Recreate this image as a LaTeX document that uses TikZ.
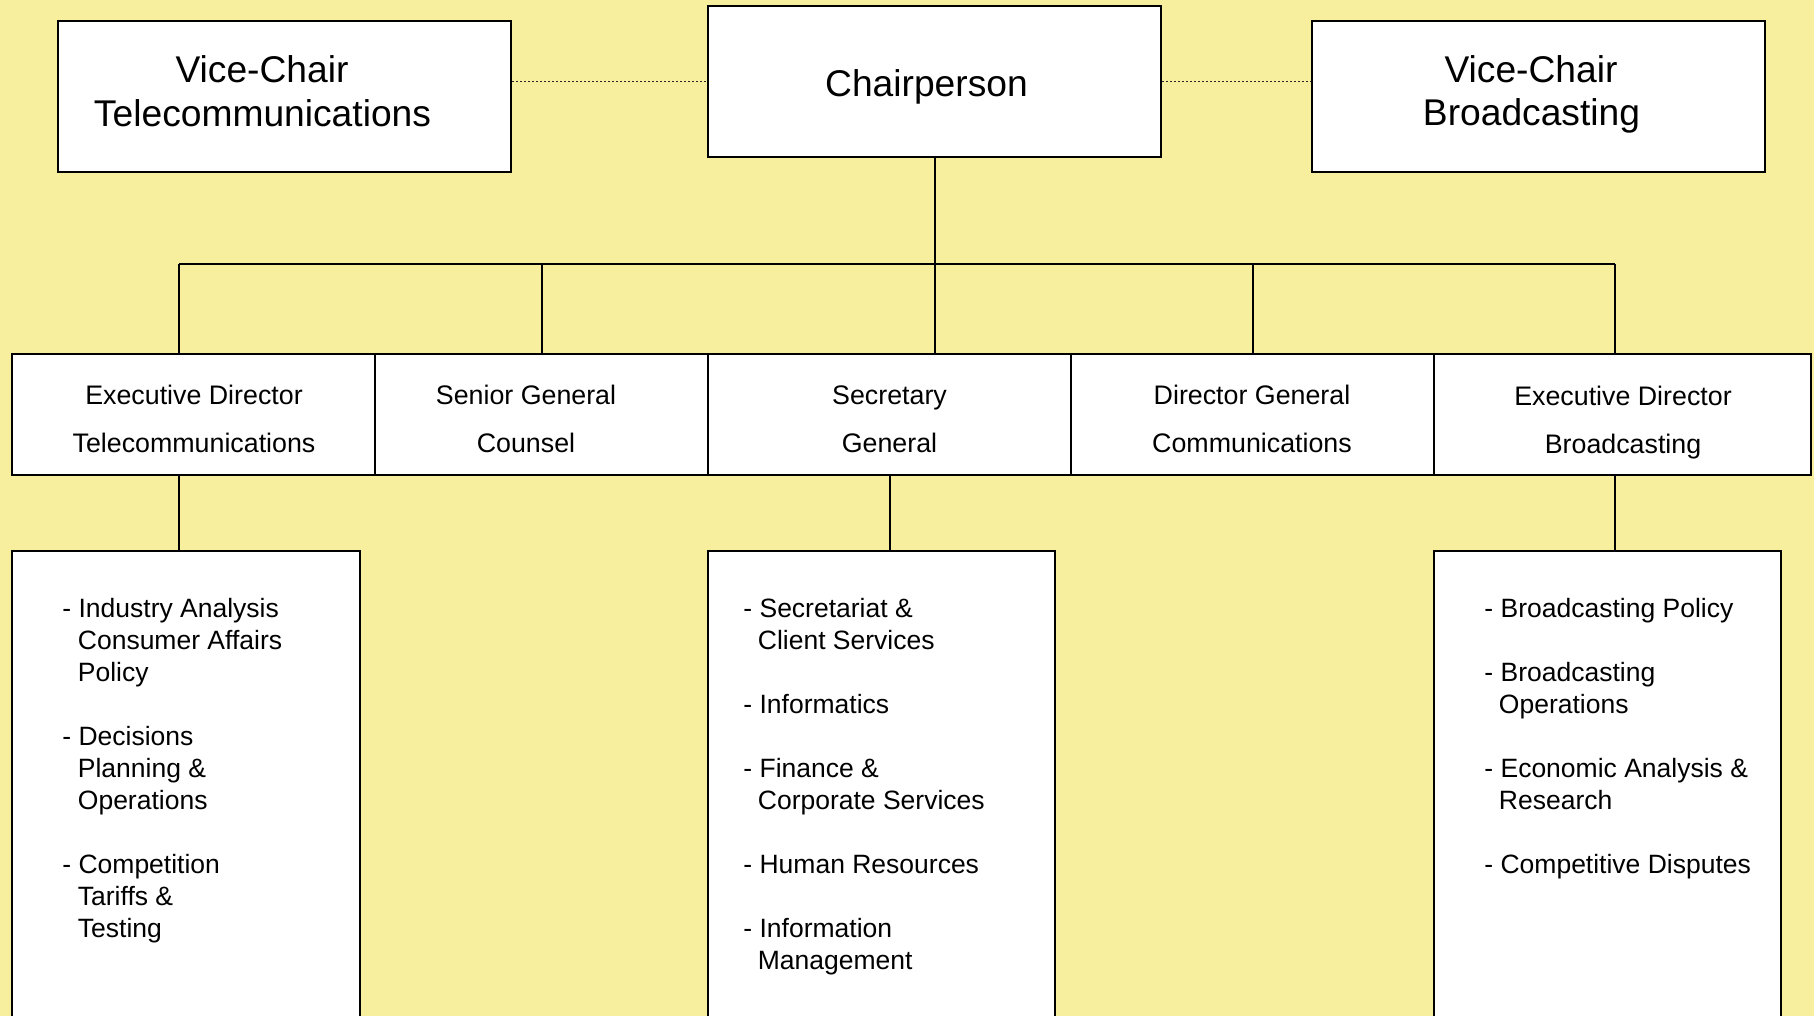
\documentclass[tikz,border=0pt]{standalone}
\usepackage{fontspec}
\setmainfont{Liberation Sans}
\definecolor{bgyellow}{RGB}{247,238,158}
\begin{document}
\begin{tikzpicture}[x=0.5pt,y=-0.5pt,
  box/.style={draw=black,fill=white,line width=1pt,rectangle,inner sep=0pt},
  bigtxt/.style={inner sep=0pt,anchor=base,font=\fontsize{18.6}{22}\selectfont},
  rowtxt/.style={inner sep=0pt,anchor=base,font=\fontsize{13.4}{16}\selectfont},
  listtxt/.style={inner sep=0pt,anchor=base west,font=\fontsize{13.25}{16}\selectfont},
  conn/.style={line width=1pt,draw=black},
  dotconn/.style={line width=0.8pt,draw=black!85,dash pattern=on 1pt off 1pt}]
\path[use as bounding box] (0,0) rectangle (1814,1016);
\clip (0,0) rectangle (1814,1016);
\fill[bgyellow] (0,0) rectangle (1814,1016);

% top row
\node[box,minimum width=226.5pt,minimum height=75.5pt] (vct) at (284.5,96.5) {};
\node[box,minimum width=226.5pt,minimum height=75.5pt] (chair) at (934.5,81.5) {};
\node[box,minimum width=226.5pt,minimum height=75.5pt] (vcb) at (1538.5,96.5) {};
\node[bigtxt] (vct1) at (262,83) {Vice-Chair};
\node[bigtxt] (vct2) at (262.5,127) {Telecommunications};
\node[bigtxt] (chairt) at (926.5,97) {Chairperson};
\node[bigtxt] (vcb1) at (1531,83) {Vice-Chair};
\node[bigtxt] (vcb2) at (1531.5,126) {Broadcasting};

% second row
\node[box,minimum width=181.5pt,minimum height=60.5pt] (r1) at (193.5,414.5) {};
\node[box,minimum width=166.5pt,minimum height=60.5pt] (r2) at (541.5,414.5) {};
\node[box,minimum width=181.5pt,minimum height=60.5pt] (r3) at (889.5,414.5) {};
\node[box,minimum width=181.5pt,minimum height=60.5pt] (r4) at (1252.5,414.5) {};
\node[box,minimum width=188.5pt,minimum height=60.5pt] (r5) at (1622.5,414.5) {};
\node[rowtxt] (r1a) at (194,404) {Executive Director};
\node[rowtxt] (r1b) at (194,452) {Telecommunications};
\node[rowtxt] (r2a) at (526,404) {Senior General};
\node[rowtxt] (r2b) at (526,452) {Counsel};
\node[rowtxt] (r3a) at (889.5,404) {Secretary};
\node[rowtxt] (r3b) at (889.5,452) {General};
\node[rowtxt] (r4a) at (1252,404) {Director General};
\node[rowtxt] (r4b) at (1252,452) {Communications};
\node[rowtxt] (r5a) at (1623,405) {Executive Director};
\node[rowtxt] (r5b) at (1623,453) {Broadcasting};

% bottom boxes
\node[box,minimum width=174pt,minimum height=249.5pt] (bA) at (186,800.5) {};
\node[box,minimum width=173.5pt,minimum height=249.5pt] (bB) at (881.5,800.5) {};
\node[box,minimum width=173.5pt,minimum height=249.5pt] (bC) at (1607.5,800.5) {};

% list A
\node[listtxt] (a0) at (62,617) {- Industry Analysis};
\node[listtxt] (a1) at (77.5,649) {Consumer Affairs};
\node[listtxt] (a2) at (77.5,681) {Policy};
\node[listtxt] (a4) at (62,745) {- Decisions};
\node[listtxt] (a5) at (77.5,777) {Planning \&};
\node[listtxt] (a6) at (77.5,809) {Operations};
\node[listtxt] (a8) at (62,873) {- Competition};
\node[listtxt] (a9) at (77.5,905) {Tariffs \&};
\node[listtxt] (a10) at (77.5,937) {Testing};

% list B
\node[listtxt] (b0) at (743,617) {- Secretariat \&};
\node[listtxt] (b1) at (757.5,649) {Client Services};
\node[listtxt] (b3) at (743,713) {- Informatics};
\node[listtxt] (b5) at (743,777) {- Finance \&};
\node[listtxt] (b6) at (757.5,809) {Corporate Services};
\node[listtxt] (b8) at (743,873) {- Human Resources};
\node[listtxt] (b10) at (743,937) {- Information};
\node[listtxt] (b11) at (757.5,969) {Management};

% list C
\node[listtxt] (c0) at (1484,617) {- Broadcasting Policy};
\node[listtxt] (c2) at (1484,681) {- Broadcasting};
\node[listtxt] (c3) at (1498.5,713) {Operations};
\node[listtxt] (c5) at (1484,777) {- Economic Analysis \&};
\node[listtxt] (c6) at (1498.5,809) {Research};
\node[listtxt] (c8) at (1484,873) {- Competitive Disputes};

% dotted links
\draw[dotconn] (vct.east |- chair.west) -- (chair.west);
\draw[dotconn] (chair.east) -- (vcb.west |- chair.east);

% tree connectors
\coordinate (busL) at (179,264);
\coordinate (busR) at (1615,264);
\draw[conn] (chair.south) -- (chair.south |- r3.north);
\draw[conn] (busL) -- (busR);
\draw[conn] (busL) -- (busL |- r1.north);
\draw[conn] (r2.north |- busL) -- (r2.north);
\draw[conn] (r4.north |- busL) -- (r4.north);
\draw[conn] (busR) -- (busR |- r5.north);
\draw[conn] (busL |- r1.south) -- (busL |- bA.north);
\draw[conn] (r3.south) -- (r3.south |- bB.north);
\draw[conn] (busR |- r5.south) -- (busR |- bC.north);
\end{tikzpicture}
\end{document}
